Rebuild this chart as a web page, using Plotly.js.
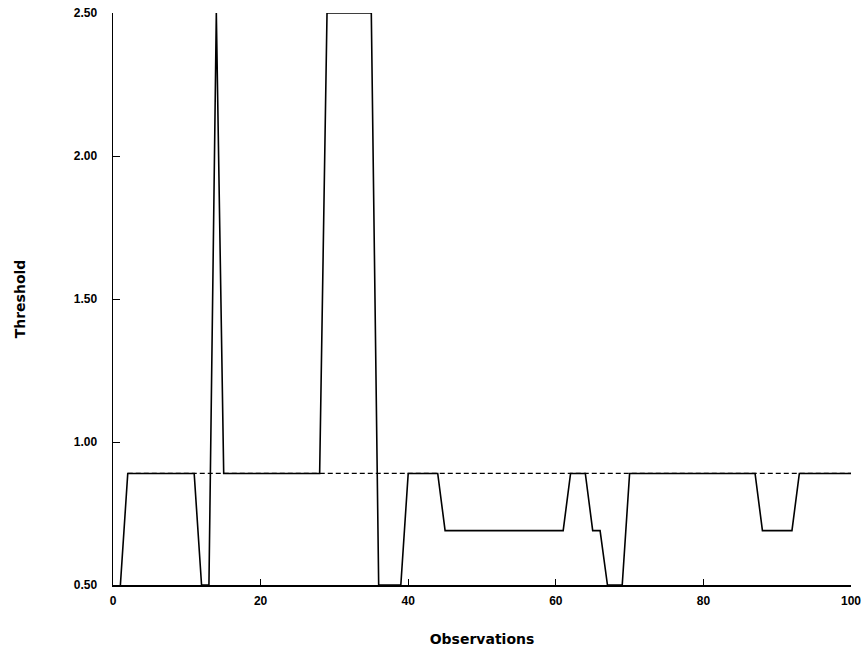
<!DOCTYPE html>
<html>
<head>
<meta charset="utf-8">
<script src="https://cdn.plot.ly/plotly-3.0.1.min.js"></script>
<style>html,body{margin:0;padding:0;background:#fff;}#chart{width:864px;height:648px;}</style>
</head>
<body>
<div id="chart"></div>
<script>
// Observation index 1..100
const observations = [
  1,2,3,4,5,6,7,8,9,10,
  11,12,13,14,15,16,17,18,19,20,
  21,22,23,24,25,26,27,28,29,30,
  31,32,33,34,35,36,37,38,39,40,
  41,42,43,44,45,46,47,48,49,50,
  51,52,53,54,55,56,57,58,59,60,
  61,62,63,64,65,66,67,68,69,70,
  71,72,73,74,75,76,77,78,79,80,
  81,82,83,84,85,86,87,88,89,90,
  91,92,93,94,95,96,97,98,99,100
];
// Estimated threshold per observation (solid line)
const thresholdValues = [
  0.50,0.89,0.89,0.89,0.89,0.89,0.89,0.89,0.89,0.89,
  0.89,0.50,0.50,2.50,0.89,0.89,0.89,0.89,0.89,0.89,
  0.89,0.89,0.89,0.89,0.89,0.89,0.89,0.89,2.50,2.50,
  2.50,2.50,2.50,2.50,2.50,0.50,0.50,0.50,0.50,0.89,
  0.89,0.89,0.89,0.89,0.69,0.69,0.69,0.69,0.69,0.69,
  0.69,0.69,0.69,0.69,0.69,0.69,0.69,0.69,0.69,0.69,
  0.69,0.89,0.89,0.89,0.69,0.69,0.50,0.50,0.50,0.89,
  0.89,0.89,0.89,0.89,0.89,0.89,0.89,0.89,0.89,0.89,
  0.89,0.89,0.89,0.89,0.89,0.89,0.89,0.69,0.69,0.69,
  0.69,0.69,0.89,0.89,0.89,0.89,0.89,0.89,0.89,0.89
];
// Constant reference threshold (dashed line)
const referenceX = [2, 100];
const referenceY = [0.89, 0.89];

const yTicks = [0.5, 1.0, 1.5, 2.0, 2.5];
const yTickLabels = ["0.50", "1.00", "1.50", "2.00", "2.50"];
const xTicks = [0, 20, 40, 60, 80, 100];
const xTickLabels = ["0", "20", "40", "60", "80", "100"];

const tickFamily = "Liberation Sans, Arial, sans-serif";
const titleFamily = "DejaVu Sans, Verdana, sans-serif";

const traces = [
  {
    x: referenceX, y: referenceY, type: "scatter", mode: "lines",
    line: {color: "#000", width: 1.3, dash: "5px,3px"}, hoverinfo: "skip", showlegend: false
  },
  {
    x: observations, y: thresholdValues, type: "scatter", mode: "lines",
    line: {color: "#000", width: 1.6}, showlegend: false
  }
];

const layout = {
  width: 864, height: 648,
  margin: {l: 113, r: 13, t: 13, b: 63, pad: 0},
  paper_bgcolor: "#fff", plot_bgcolor: "#fff",
  showlegend: false,
  xaxis: {
    range: [0, 100], tickvals: xTicks, ticktext: xTickLabels,
    showgrid: false, zeroline: false, showline: true, linecolor: "#000", linewidth: 1.5,
    ticks: "inside", ticklen: 6, tickwidth: 1, tickcolor: "#000",
    tickfont: {family: tickFamily, size: 12, color: "#000", weight: 700},
    ticklabelstandoff: 4,
    title: {text: "Observations", font: {family: titleFamily, size: 14, color: "#000", weight: 700}, standoff: 27},
    automargin: false, fixedrange: true
  },
  yaxis: {
    range: [0.5, 2.5], tickvals: yTicks, ticktext: yTickLabels,
    showgrid: false, zeroline: false, showline: true, linecolor: "#000", linewidth: 1.5,
    ticks: "inside", ticklen: 7, tickwidth: 1, tickcolor: "#000",
    tickfont: {family: tickFamily, size: 12, color: "#000", weight: 700},
    ticklabelstandoff: 12,
    title: {text: "Threshold", font: {family: titleFamily, size: 14, color: "#000", weight: 700}, standoff: 45},
    automargin: false, fixedrange: true
  }
};

Plotly.newPlot("chart", traces, layout, {staticPlot: true, displayModeBar: false});
</script>
</body>
</html>
